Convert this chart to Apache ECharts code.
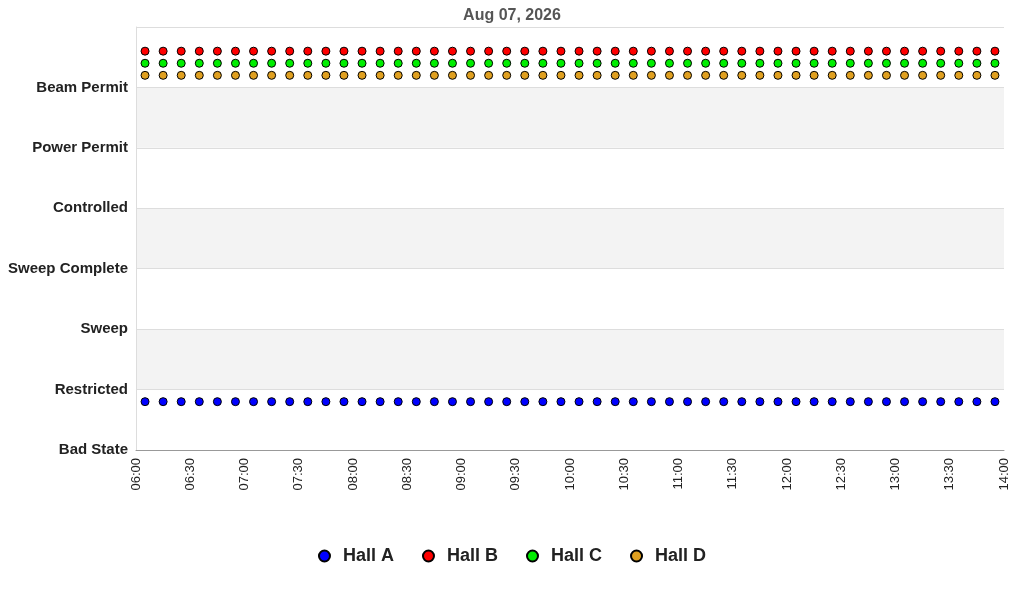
<!DOCTYPE html><html><head><meta charset="utf-8"><script src="https://cdn.jsdelivr.net/npm/echarts@6/dist/echarts.min.js"></script></head><body style="margin:0"><div id="c" style="width:1024px;height:600px"></div><script>
const title = "Aug 07, 2026";
const stateLabels = ["Bad State","Restricted","Sweep","Sweep Complete","Controlled","Power Permit","Beam Permit"];
const xTicks = ["06:00","06:30","07:00","07:30","08:00","08:30","09:00","09:30","10:00","10:30","11:00","11:30","12:00","12:30","13:00","13:30","14:00"];
const times = ["06:05","06:15","06:25","06:35","06:45","06:55","07:05","07:15","07:25","07:35","07:45","07:55","08:05","08:15","08:25","08:35","08:45","08:55","09:05","09:15","09:25","09:35","09:45","09:55","10:05","10:15","10:25","10:35","10:45","10:55","11:05","11:15","11:25","11:35","11:45","11:55","12:05","12:15","12:25","12:35","12:45","12:55","13:05","13:15","13:25","13:35","13:45","13:55"];
const hallA = [0.8,0.8,0.8,0.8,0.8,0.8,0.8,0.8,0.8,0.8,0.8,0.8,0.8,0.8,0.8,0.8,0.8,0.8,0.8,0.8,0.8,0.8,0.8,0.8,0.8,0.8,0.8,0.8,0.8,0.8,0.8,0.8,0.8,0.8,0.8,0.8,0.8,0.8,0.8,0.8,0.8,0.8,0.8,0.8,0.8,0.8,0.8,0.8];
const hallB = [6.6,6.6,6.6,6.6,6.6,6.6,6.6,6.6,6.6,6.6,6.6,6.6,6.6,6.6,6.6,6.6,6.6,6.6,6.6,6.6,6.6,6.6,6.6,6.6,6.6,6.6,6.6,6.6,6.6,6.6,6.6,6.6,6.6,6.6,6.6,6.6,6.6,6.6,6.6,6.6,6.6,6.6,6.6,6.6,6.6,6.6,6.6,6.6];
const hallC = [6.4,6.4,6.4,6.4,6.4,6.4,6.4,6.4,6.4,6.4,6.4,6.4,6.4,6.4,6.4,6.4,6.4,6.4,6.4,6.4,6.4,6.4,6.4,6.4,6.4,6.4,6.4,6.4,6.4,6.4,6.4,6.4,6.4,6.4,6.4,6.4,6.4,6.4,6.4,6.4,6.4,6.4,6.4,6.4,6.4,6.4,6.4,6.4];
const hallD = [6.2,6.2,6.2,6.2,6.2,6.2,6.2,6.2,6.2,6.2,6.2,6.2,6.2,6.2,6.2,6.2,6.2,6.2,6.2,6.2,6.2,6.2,6.2,6.2,6.2,6.2,6.2,6.2,6.2,6.2,6.2,6.2,6.2,6.2,6.2,6.2,6.2,6.2,6.2,6.2,6.2,6.2,6.2,6.2,6.2,6.2,6.2,6.2];
const seriesNames = ["Hall A","Hall B","Hall C","Hall D"];
const colors = ["#0000ff","#ff0000","#00ee00","#e0a020"];
const toMin = s => { const [h,m] = s.split(":").map(Number); return h*60+m; };
const fmt = v => { const h = Math.floor(v/60), m = v%60; return String(h).padStart(2,"0")+":"+String(m).padStart(2,"0"); };
const all = [hallA,hallB,hallC,hallD];
const chart = echarts.init(document.getElementById("c"));
chart.setOption({
  animation:false,
  title:{text:title,left:'center',top:3,textStyle:{fontFamily:'Liberation Sans',fontSize:16,fontWeight:'bold',color:'#555'}},
  grid:{left:136,right:20,top:27,bottom:150},
  legend:{bottom:30,itemGap:28,itemWidth:11,itemHeight:11,textStyle:{fontFamily:'Liberation Sans',fontSize:18,fontWeight:'bold',color:'#222',padding:[0,0,0,8]},data:seriesNames.map(n=>({name:n,icon:'circle'}))},
  xAxis:{type:'value',min:toMin(xTicks[0]),max:toMin(xTicks[xTicks.length-1]),interval:30,
    axisLine:{onZero:false,lineStyle:{color:'#999'}},axisTick:{show:false},splitLine:{show:false},
    axisLabel:{rotate:90,formatter:fmt,fontFamily:'Liberation Sans',fontSize:13,color:'#222'}},
  yAxis:{type:'value',min:0,max:7,interval:1,
    axisLine:{show:true,lineStyle:{color:'#ddd'}},axisTick:{show:false},
    splitLine:{show:true,lineStyle:{color:'#ddd'}},
    splitArea:{show:true,areaStyle:{color:['#fff','#f3f3f3']}},
    axisLabel:{formatter:v=>stateLabels[v]||'',fontFamily:'Liberation Sans',fontSize:15,fontWeight:'bold',color:'#222'}},
  series:all.map((d,i)=>({name:seriesNames[i],type:'scatter',symbol:'circle',symbolSize:8,
    itemStyle:{color:colors[i],borderColor:'#000',borderWidth:1,opacity:1},
    data:times.map((t,j)=>[toMin(t),d[j]])}))
});
</script></body></html>
